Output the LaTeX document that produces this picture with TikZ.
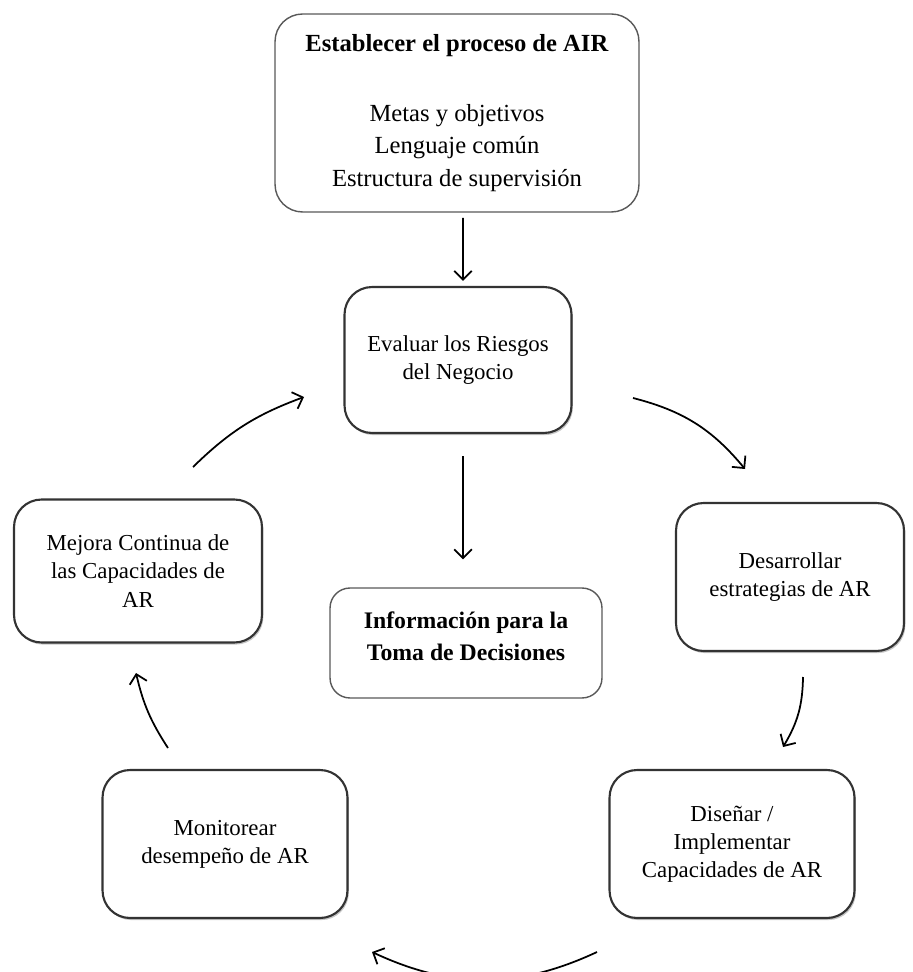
\documentclass[tikz,border=0pt]{standalone}
\usepackage{fontspec}
\setmainfont{Liberation Serif}
\usetikzlibrary{arrows.meta}
\usetikzlibrary{shadows}

\tikzset{
  paso/.style={draw=black!80,line width=1.2pt,rounded corners=0.55cm,fill=white,
    align=center,font=\fontsize{13}{16}\selectfont,
    drop shadow={shadow xshift=0.8pt,shadow yshift=-1.2pt,opacity=0.45}},
  marco/.style={draw=black!65,line width=0.8pt,rounded corners=0.55cm,fill=white,align=center},
  flecha/.style={line width=1pt,-{Straight Barb[length=5pt,width=10pt]}}
}

\begin{document}
\begin{tikzpicture}[x=0.02cm,y=-0.02cm]
  \useasboundingbox (0,0) rectangle (912,972);

  % cajas del ciclo
  \node[marco,minimum width=7.28cm,minimum height=3.96cm,font=\fontsize{14}{18.5}\selectfont] (air) at (457,113)
    {\textbf{Establecer el proceso de AIR}\\[0.75cm]Metas y objetivos\\Lenguaje común\\Estructura de supervisión};
  \node[paso,minimum width=4.54cm,minimum height=2.92cm] (evaluar) at (458,360) {Evaluar los Riesgos\\del Negocio};
  \node[marco,minimum width=5.44cm,minimum height=2.2cm,rounded corners=0.4cm,font=\fontsize{13.5}{18}\selectfont\bfseries] (info) at (466,643)
    {Información para la\\Toma de Decisiones\\[-3.5mm]\mbox{}};
  \node[paso,minimum width=4.56cm,minimum height=2.96cm] (desarrollar) at (790,577) {Desarrollar\\estrategias de AR};
  \node[paso,minimum width=4.9cm,minimum height=2.96cm] (disenar) at (732,844) {Diseñar /\\Implementar\\Capacidades de AR};
  \node[paso,minimum width=4.9cm,minimum height=2.96cm] (monitorear) at (225,844) {Monitorear\\desempeño de AR};
  \node[paso,minimum width=4.96cm,minimum height=2.86cm] (mejora) at (138,571) {Mejora Continua de\\las Capacidades de\\AR};

  % extremos de las flechas curvas
  \coordinate (r1) at (633,398);  \coordinate (r2) at (745,469);
  \coordinate (d1) at (803,677);  \coordinate (d2) at (783,747);
  \coordinate (b1) at (597,952);  \coordinate (b2) at (372,952);
  \coordinate (m1) at (168,748);  \coordinate (m2) at (136,673);
  \coordinate (l1) at (193,467);  \coordinate (l2) at (304,397);

  \draw[flecha,shorten <=3pt,shorten >=0.1cm] ([xshift=0.12cm]air.south) -- ([xshift=0.1cm]evaluar.north);
  \draw[flecha,shorten <=0.44cm,shorten >=0.56cm] ([xshift=0.1cm]evaluar.south) -- ([xshift=-0.06cm]info.north);

  \draw[flecha] (r1) to[bend left=18] (r2);
  \draw[flecha] (d1) to[bend left=15] (d2);
  \draw[flecha] (b1) to[bend left=25] (b2);
  \draw[flecha] (m1) to[bend left=10] (m2);
  \draw[flecha] (l1) to[bend left=12] (l2);
\end{tikzpicture}
\end{document}
